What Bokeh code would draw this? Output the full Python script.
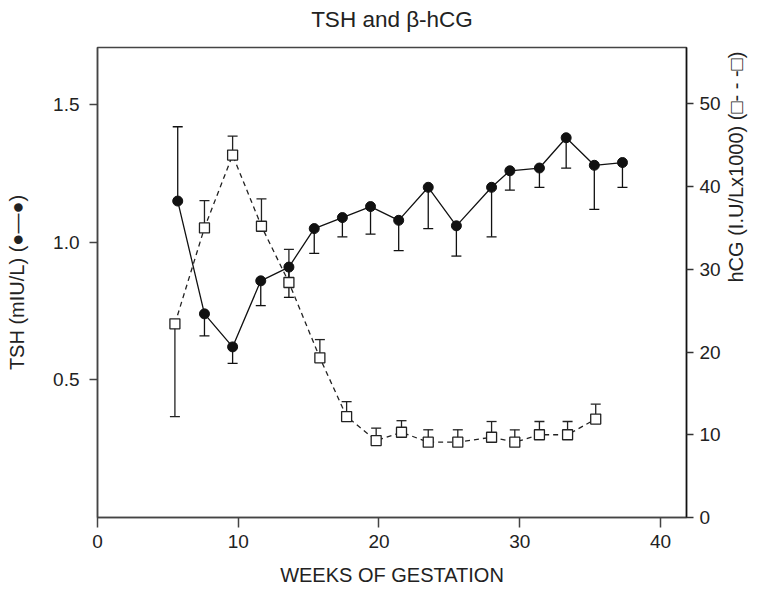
from bokeh.plotting import figure
from bokeh.models import Range1d, LinearAxis, FixedTicker, PrintfTickFormatter
from bokeh.embed import file_html
from bokeh.resources import INLINE

# ---- data ----
tsh_weeks = [5.7, 7.6, 9.6, 11.6, 13.6, 15.4, 17.4, 19.4, 21.4, 23.5, 25.5, 28.0, 29.3, 31.4, 33.3, 35.3, 37.3]
tsh_vals = [1.15, 0.74, 0.62, 0.86, 0.91, 1.05, 1.09, 1.13, 1.08, 1.20, 1.06, 1.20, 1.26, 1.27, 1.38, 1.28, 1.29]
tsh_err_end = [1.42, 0.66, 0.56, 0.77, 0.80, 0.96, 1.02, 1.03, 0.97, 1.05, 0.95, 1.02, 1.19, 1.20, 1.27, 1.12, 1.20]

hcg_weeks = [5.5, 7.6, 9.6, 11.65, 13.6, 15.8, 17.7, 19.8, 21.6, 23.5, 25.6, 28.0, 29.65, 31.4, 33.4, 35.4]
hcg_vals = [23.4, 35.0, 43.8, 35.2, 28.4, 19.3, 12.2, 9.3, 10.3, 9.1, 9.1, 9.7, 9.1, 10.0, 10.0, 11.9]
hcg_err_end = [12.2, 38.3, 46.1, 38.5, 32.4, 21.5, 14.0, 10.8, 11.7, 10.6, 10.6, 11.6, 10.6, 11.6, 11.6, 13.7]

x_ticks = [0, 10, 20, 30, 40]
tsh_ticks = [0.5, 1.0, 1.5]
hcg_ticks = [0, 10, 20, 30, 40, 50]

title_text = "TSH and \u03b2-hCG"
x_label = "WEEKS OF GESTATION"
left_label = "TSH (mIU/L) (\u25cf\u2014\u25cf)"
right_label = "hCG (I.U/Lx1000) (\u25a1- - -\u25a1)"

FONT = "Liberation Sans"
TXT = "#222222"
AX = "#444444"

p = figure(width=760, height=593, output_backend="svg", toolbar_location=None,
           x_range=Range1d(0, 41.85), y_range=Range1d(0, 1.708),
           min_border_left=97, min_border_right=74, min_border_top=47, min_border_bottom=76)
p.extra_y_ranges = {"hcg": Range1d(0, 56.8)}
p.xgrid.visible = False
p.ygrid.visible = False
p.outline_line_color = AX
p.outline_line_width = 1.5
p.background_fill_color = "white"
p.border_fill_color = "white"

for ax in (p.xaxis[0], p.yaxis[0]):
    ax.axis_line_color = AX
    ax.axis_line_width = 1.5
    ax.major_tick_line_color = AX
    ax.major_tick_line_width = 1.5
    ax.major_tick_in = 0
    ax.minor_tick_line_color = None
    ax.major_label_text_font = FONT
    ax.major_label_text_font_size = "19px"
    ax.major_label_text_color = TXT
    ax.axis_label_text_font = FONT
    ax.axis_label_text_font_style = "normal"
    ax.axis_label_text_color = TXT
    ax.axis_label_text_font_size = "20px"

p.xaxis.ticker = FixedTicker(ticks=x_ticks)
p.xaxis.major_tick_out = 10
p.xaxis.major_label_standoff = 7
p.xaxis.axis_label = x_label
p.xaxis.axis_label_standoff = 13

p.yaxis.ticker = FixedTicker(ticks=tsh_ticks)
p.yaxis.formatter = PrintfTickFormatter(format="%.1f")
p.yaxis.major_tick_out = 8
p.yaxis.major_label_standoff = 10
p.yaxis.axis_label = left_label
p.yaxis.axis_label_standoff = 22

rax = LinearAxis(y_range_name="hcg", ticker=FixedTicker(ticks=hcg_ticks))
rax.axis_line_color = "#111111"
rax.axis_line_width = 1.5
rax.major_tick_line_color = "#333333"
rax.major_tick_line_width = 1.5
rax.major_tick_in = 0
rax.major_tick_out = 7
rax.minor_tick_line_color = None
rax.major_label_standoff = 6
rax.major_label_text_font = FONT
rax.major_label_text_font_size = "19px"
rax.major_label_text_color = TXT
rax.axis_label = right_label
rax.axis_label_text_font = FONT
rax.axis_label_text_font_size = "20px"
rax.axis_label_text_font_style = "normal"
rax.axis_label_text_color = TXT
rax.axis_label_standoff = 12
rax.axis_label_orientation = 1.5708
p.add_layout(rax, "right")

# title drawn as the label of a tick-less axis above the frame
tax = LinearAxis(ticker=FixedTicker(ticks=[]))
tax.axis_line_color = None
tax.major_tick_line_color = None
tax.minor_tick_line_color = None
tax.axis_label = title_text
tax.axis_label_text_font = FONT
tax.axis_label_text_font_size = "22.5px"
tax.axis_label_text_font_style = "normal"
tax.axis_label_text_color = TXT
tax.axis_label_standoff = 16
p.add_layout(tax, "above")

# ---- hCG series (dashed, open squares) ----
p.line(hcg_weeks, hcg_vals, y_range_name="hcg", line_color="#222222", line_width=1.3, line_dash="5 4")
p.segment(x0=hcg_weeks, y0=hcg_vals, x1=hcg_weeks, y1=hcg_err_end, y_range_name="hcg",
          line_color="#222222", line_width=1.3)
p.scatter(hcg_weeks, hcg_err_end, marker="dash", size=10, y_range_name="hcg",
          line_color="#222222", line_width=1.3)

# ---- TSH series (solid, filled circles) ----
p.line(tsh_weeks, tsh_vals, line_color="#111111", line_width=1.3)
p.segment(x0=tsh_weeks, y0=tsh_vals, x1=tsh_weeks, y1=tsh_err_end, line_color="#111111", line_width=1.3)
p.scatter(tsh_weeks, tsh_err_end, marker="dash", size=10, line_color="#111111", line_width=1.3)

p.scatter(hcg_weeks, hcg_vals, marker="square", size=10, y_range_name="hcg",
          fill_color="white", line_color="#222222", line_width=1.3)
p.scatter(tsh_weeks, tsh_vals, marker="circle", size=10, fill_color="#111111", line_color="#111111")

open("out.html", "w").write(file_html(p, INLINE))
